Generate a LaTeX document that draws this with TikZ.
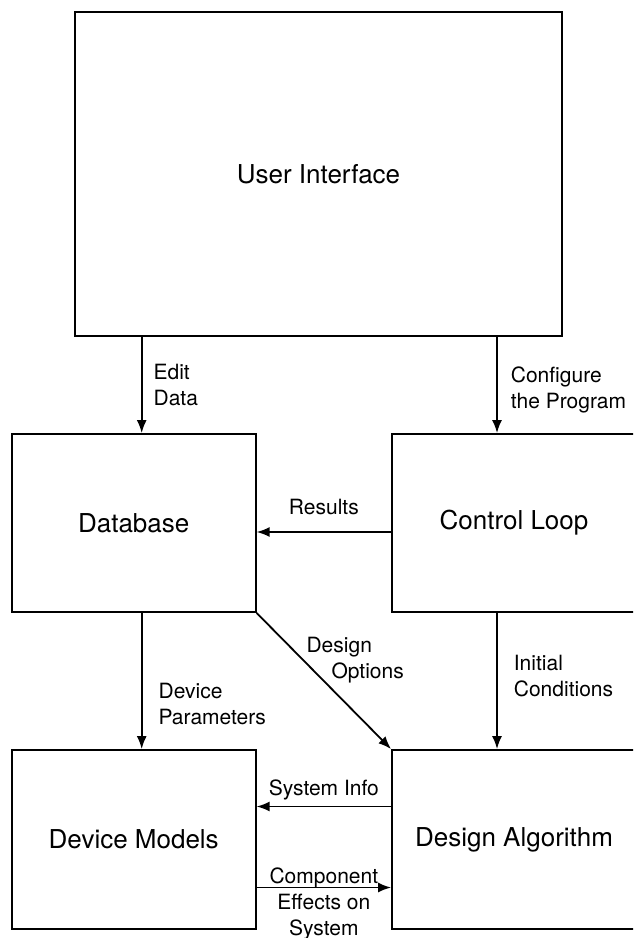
\documentclass[tikz,border=0pt]{standalone}
\usepackage{fontspec}
\setmainfont{TeX Gyre Heros}
\usetikzlibrary{arrows.meta}

\begin{document}
\begin{tikzpicture}[x=1pt,y=-1pt,line width=1.8pt]%

\clip (0,0) rectangle (633,938);

      \tikzstyle{box}=[draw,inner sep=0,font=\fontsize{26}{31}\selectfont]
      \tikzstyle{lbl}=[inner sep=0,font=\fontsize{21}{26}\selectfont]
      \tikzstyle{arr}=[-{Latex[length=13pt,width=10pt]}]

\node[box,minimum width=487pt,minimum height=324pt] (ui) at (318.5,174) {User Interface};

\node[box,minimum width=244pt,minimum height=178pt] (db) at (133.7,523) {Database};
\node[box,minimum width=244pt,minimum height=178pt] (cl) at (514,523) {Control Loop};

\node[box,minimum width=244pt,minimum height=179pt] (dm) at (133.7,839.5) {Device Models};
\node[box,minimum width=244pt,minimum height=179pt] (da) at (514,839.5) {Design Algorithm};

\draw[arr] ([xshift=8pt]db.north |- ui.south) -- node[lbl,right=11pt,align=left]{Edit\\Data} ([xshift=8pt]db.north);
\draw[arr] ([xshift=-17pt]cl.north |- ui.south) -- node[lbl,pos=0.55,right=13pt,align=left]{Configure\\the Program} ([xshift=-17pt]cl.north);

\draw[arr] ([yshift=-9pt]cl.west) -- node[lbl,above=16pt]{Results} ([yshift=-9pt]cl.west -| db.east);

\draw[arr] (db.south east) -- node[lbl,pos=0.35,anchor=west,xshift=2pt,align=left]{Design\\\hspace*{25pt}Options} (da.north west);
\draw[arr] ([xshift=8pt]db.south) -- node[lbl,pos=0.67,right=16pt,align=left]{Device\\Parameters} ([xshift=8pt]dm.north);
\draw[arr] ([xshift=-17pt]cl.south) -- node[lbl,pos=0.46,right=16pt,align=left]{Initial\\Conditions} ([xshift=-17pt]da.north);

\draw[arr] ([yshift=33pt]da.west) -- node[lbl,above=6pt]{System Info} ([yshift=33pt]da.west -| dm.east);
\draw[arr] ([yshift=-48pt]dm.east) -- node[lbl,anchor=north,yshift=21pt,align=center]{Component\\Effects on\\System} ([yshift=-48pt]dm.east -| da.west);

\end{tikzpicture}
\end{document}
